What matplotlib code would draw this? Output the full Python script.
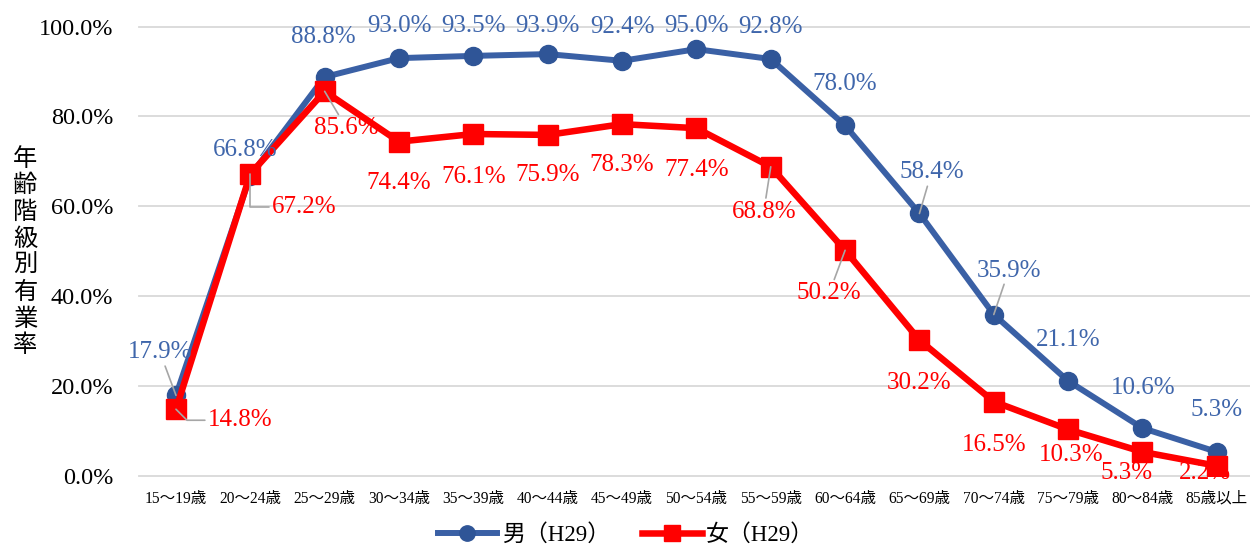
import numpy as np
import matplotlib.pyplot as plt

plt.rcParams["font.family"] = ["Liberation Serif", "Noto Sans CJK JP", "DejaVu Sans"]

categories = ["15～19歳", "20～24歳", "25～29歳", "30～34歳", "35～39歳",
              "40～44歳", "45～49歳", "50～54歳", "55～59歳", "60～64歳",
              "65～69歳", "70～74歳", "75～79歳", "80～84歳", "85歳以上"]
male = [17.9, 66.8, 88.8, 93.0, 93.5, 93.9, 92.4, 95.0, 92.8, 78.0, 58.4, 35.9, 21.1, 10.6, 5.3]
female = [14.8, 67.2, 85.6, 74.4, 76.1, 75.9, 78.3, 77.4, 68.8, 50.2, 30.2, 16.5, 10.3, 5.3, 2.2]
series_names = ["男（H29）", "女（H29）"]
yticks = [0, 20, 40, 60, 80, 100]

# label placement (pixel offsets from the point) and which ones get a leader line
male_off = [(-16, 43), (-5, 26), (-1, 40), (0, 32), (0, 30), (0, 28), (0, 34), (0, 23), (0, 32),
            (0, 41), (12, 41), (15, 44), (0, 41), (1, 40), (0, 42)]
female_off = [(64, -11), (54, -33), (22, -37), (0, -41), (0, -43), (0, -40), (0, -41), (0, -42),
              (-7, -45), (-16, -43), (0, -43), (0, -43), (3, -26), (-16, -21), (-12, -7)]
male_leader = {0: "arc3", 10: "arc3", 11: "arc3"}
female_leader = {0: "angle,angleA=0,angleB=-45", 1: "angle,angleA=0,angleB=90",
                 2: "arc3", 8: "arc3", 9: "arc3"}

blue_line = "#3A60A5"
blue_mark = "#2F5597"
blue_text = "#3F66AB"
red = "#FF0000"
grid_c = "#D9D9D9"
leader_c = "#A6A6A6"

fig = plt.figure(figsize=(12.5, 5.48), dpi=100)
ax = fig.add_axes([138.8 / 1250, 1 - 475.7 / 548, (1254 - 138.8) / 1250, (475.7 - 26.7) / 548])

x = np.arange(len(categories))
ax.plot(x, male, color=blue_line, lw=4.3, marker="o", ms=13,
        mfc=blue_mark, mec=blue_mark, label=series_names[0], zorder=3)
ax.plot(x, female, color=red, lw=4.7, marker="s", ms=14,
        mfc=red, mec=red, label=series_names[1], zorder=4)


def add_labels(vals, offs, leaders, color):
    for i, (v, off) in enumerate(zip(vals, offs)):
        kw = {}
        if i in leaders:
            kw["arrowprops"] = dict(arrowstyle="-", color=leader_c, lw=1.2,
                                    shrinkA=0, shrinkB=0, connectionstyle=leaders[i])
        ax.annotate(f"{v:.1f}%", (i, v), xytext=off, textcoords="offset pixels",
                    ha="center", va="center", fontsize=18, color=color,
                    zorder=6, annotation_clip=False, **kw)


add_labels(male, male_off, male_leader, blue_text)
add_labels(female, female_off, female_leader, red)

ax.set_xlim(-0.5, len(categories) - 0.5)
ax.set_ylim(0, 100)
ax.set_xticks(x)
ax.set_xticklabels(categories, fontsize=11.2)
ax.set_yticks(yticks)
ax.set_yticklabels([f"{t:.1f}%" for t in yticks], fontsize=17.5)
ax.tick_params(axis="x", length=0, pad=11)
ax.tick_params(axis="y", length=0, pad=18.5)
for s in ax.spines.values():
    s.set_visible(False)
ax.yaxis.grid(True, color=grid_c, lw=1.3)
for gl in ax.get_ygridlines():
    gl.set_clip_on(False)
ax.set_axisbelow(True)

fig.text(25 / 1250, 1 - 252 / 548, "\n".join("年齢階級別有業率"), ha="center", va="center",
         fontsize=17.5, linespacing=1.03, family=["Noto Sans CJK JP"])

fig.legend(loc="center", bbox_to_anchor=(626 / 1250, 1 - 535 / 548), ncol=2, frameon=False,
           fontsize=16.5, handlelength=2.6, handletextpad=0.2, columnspacing=1.4,
           markerscale=0.85, borderpad=0)

fig.savefig("out.png", dpi=100)
plt.close(fig)
